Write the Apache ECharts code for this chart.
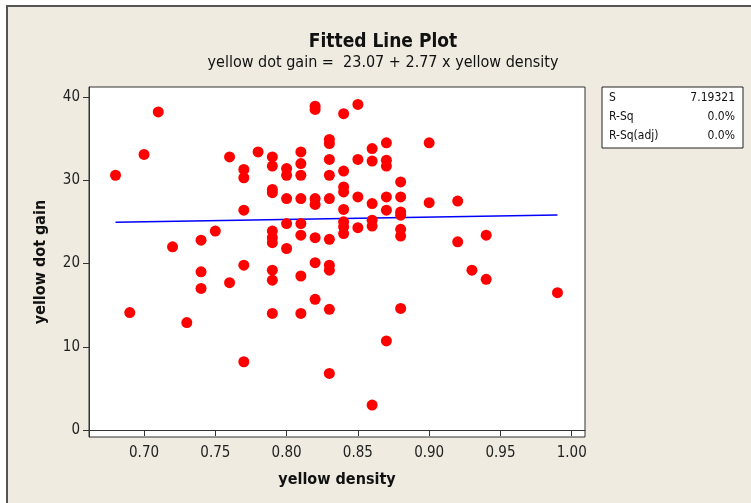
<!DOCTYPE html>
<html>
<head>
<meta charset="utf-8">
<script src="https://cdn.jsdelivr.net/npm/echarts@6/dist/echarts.min.js"></script>
<style>
  html, body { margin: 0; padding: 0; background: #ffffff; }
  #chart { width: 751px; height: 503px; }
</style>
</head>
<body>
<div id="chart"></div>
<script>
// Observations: yellow density (x) and yellow dot gain (y)
const density = [
  0.68, 0.69, 0.70, 0.71, 0.72, 0.73,
  0.74, 0.74, 0.74, 0.75, 0.76, 0.76,
  0.77, 0.77, 0.77, 0.77, 0.77, 0.78,
  0.79, 0.79, 0.79, 0.79, 0.79, 0.79, 0.79, 0.79, 0.79, 0.79,
  0.80, 0.80, 0.80, 0.80, 0.80,
  0.81, 0.81, 0.81, 0.81, 0.81, 0.81, 0.81, 0.81,
  0.82, 0.82, 0.82, 0.82, 0.82, 0.82, 0.82,
  0.83, 0.83, 0.83, 0.83, 0.83, 0.83, 0.83, 0.83, 0.83, 0.83,
  0.84, 0.84, 0.84, 0.84, 0.84, 0.84, 0.84, 0.84,
  0.85, 0.85, 0.85, 0.85,
  0.86, 0.86, 0.86, 0.86, 0.86, 0.86,
  0.87, 0.87, 0.87, 0.87, 0.87, 0.87,
  0.88, 0.88, 0.88, 0.88, 0.88, 0.88, 0.88,
  0.90, 0.90, 0.92, 0.92, 0.93, 0.94, 0.94, 0.99
];
const dotGain = [
  30.6, 14.1, 33.1, 38.2, 22.0, 12.9,
  22.8, 19.0, 17.0, 23.9, 32.8, 17.7,
  31.3, 30.3, 26.4, 19.8, 8.2, 33.4,
  32.8, 31.7, 28.9, 28.5, 23.9, 23.1, 22.5, 19.2, 18.0, 14.0,
  31.4, 30.6, 27.8, 24.8, 21.8,
  33.4, 32.0, 30.6, 27.8, 24.8, 23.4, 18.5, 14.0,
  38.9, 38.5, 27.8, 27.1, 23.1, 20.1, 15.7,
  34.9, 34.4, 32.5, 30.6, 27.8, 22.9, 19.8, 19.2, 14.5, 6.8,
  38.0, 31.1, 29.2, 28.6, 26.5, 25.0, 24.4, 23.6,
  39.1, 32.5, 28.0, 24.3,
  33.8, 32.3, 27.2, 25.2, 24.5, 3.0,
  34.5, 32.4, 31.7, 28.0, 26.4, 10.7,
  29.8, 28.0, 26.2, 25.8, 24.1, 23.3, 14.6,
  34.5, 27.3, 27.5, 22.6, 19.2, 23.4, 18.1, 16.5
];

// Regression fit: yellow dot gain = 23.07 + 2.77 x yellow density
const intercept = 23.07;
const slope = 2.77;
const fitRange = [0.68, 0.99];

const xTicks = [0.70, 0.75, 0.80, 0.85, 0.90, 0.95, 1.00];
const yTicks = [0, 10, 20, 30, 40];

const statLabels = ['S', 'R-Sq', 'R-Sq(adj)'];
const statValues = ['7.19321', '0.0%', '0.0%'];

const FONT = '"DejaVu Sans Condensed", "DejaVu Sans", sans-serif';

const points = density.map((d, i) => [d, dotGain[i]]);
const fitLine = fitRange.map(x => [x, intercept + slope * x]);

const chart = echarts.init(document.getElementById('chart'), null, { renderer: 'canvas' });

const statsChildren = [
  {
    type: 'rect',
    shape: { x: 602, y: 87, width: 141, height: 61 },
    style: { fill: '#ffffff', stroke: '#222222', lineWidth: 1 }
  }
];
statLabels.forEach((s, i) => {
  statsChildren.push({
    type: 'text', x: 609, y: 98 + i * 19,
    style: { text: s, font: '12px ' + FONT, fill: '#111', textAlign: 'left', textVerticalAlign: 'middle' }
  });
  statsChildren.push({
    type: 'text', x: 735, y: 98 + i * 19,
    style: { text: statValues[i], font: '12px ' + FONT, fill: '#111', textAlign: 'right', textVerticalAlign: 'middle' }
  });
});

chart.setOption({
  backgroundColor: '#ffffff',
  animation: false,
  grid: {
    left: 89, top: 87, right: 166, bottom: 66,
    show: true, backgroundColor: '#ffffff', borderColor: '#333333', borderWidth: 1
  },
  xAxis: {
    type: 'value',
    min: 0.6614, max: 1.0093,
    name: 'yellow density',
    nameLocation: 'middle',
    nameGap: 35,
    nameTextStyle: { fontFamily: FONT, fontSize: 16, fontWeight: 'bold', color: '#111' },
    axisLine: { show: true, lineStyle: { color: '#333333', width: 1 } },
    axisTick: { show: true, length: 6, customValues: xTicks, lineStyle: { color: '#333333' } },
    axisLabel: {
      customValues: xTicks, margin: 9,
      fontFamily: FONT, fontSize: 15, color: '#222',
      formatter: v => v.toFixed(2)
    },
    splitLine: { show: false }
  },
  yAxis: {
    type: 'value',
    min: -0.84, max: 41.2,
    name: 'yellow dot gain',
    nameLocation: 'middle',
    nameGap: 40,
    nameTextStyle: { fontFamily: FONT, fontSize: 16, fontWeight: 'bold', color: '#111' },
    axisLine: { show: true, lineStyle: { color: '#333333', width: 1 } },
    axisTick: { show: true, length: 6, customValues: yTicks, lineStyle: { color: '#333333' } },
    axisLabel: {
      customValues: yTicks, margin: 9,
      fontFamily: FONT, fontSize: 15, color: '#222'
    },
    splitLine: { show: false }
  },
  graphic: [
    {
      type: 'rect', z: -10, silent: true,
      shape: { x: 7, y: 6, width: 900, height: 700 },
      style: { fill: '#EFEBE1', stroke: '#555555', lineWidth: 2 }
    },
    {
      type: 'text', x: 383, y: 42, z: 10,
      style: { text: 'Fitted Line Plot', font: 'bold 19px ' + FONT, fill: '#111', textAlign: 'center', textVerticalAlign: 'middle' }
    },
    {
      type: 'text', x: 383, y: 63, z: 10,
      style: { text: 'yellow dot gain =  23.07 + 2.77 x yellow density', font: '16px ' + FONT, fill: '#111', textAlign: 'center', textVerticalAlign: 'middle' }
    },
    { type: 'group', children: statsChildren }
  ],
  series: [
    {
      type: 'scatter',
      data: points,
      symbol: 'circle',
      symbolSize: 11,
      itemStyle: { color: '#FF0000', opacity: 1 },
      z: 3
    },
    {
      type: 'line',
      data: fitLine,
      showSymbol: false,
      lineStyle: { color: '#0000FF', width: 1.5 },
      z: 2
    }
  ]
});
</script>
</body>
</html>
